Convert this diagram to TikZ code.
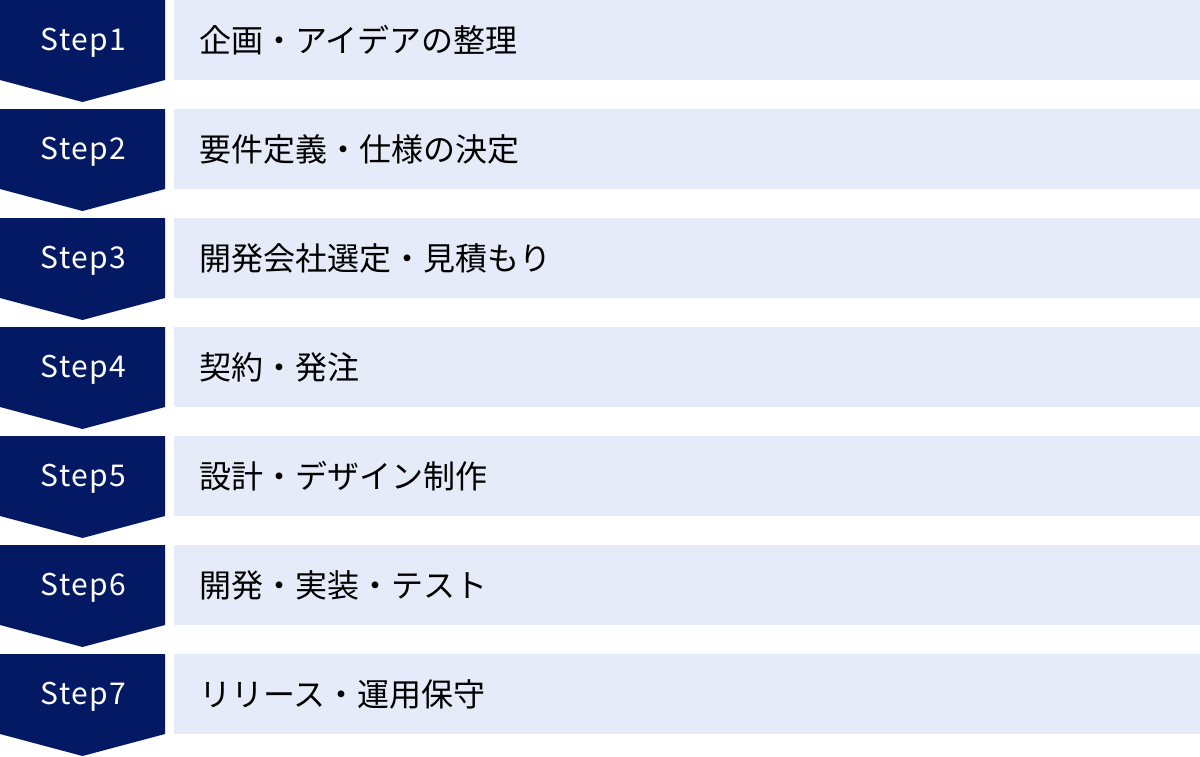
\documentclass[tikz,border=0pt]{standalone}
\usepackage{fontspec}
\setmainfont{Noto Sans CJK JP}
\newfontfamily\stepfont[LetterSpace=5]{Noto Sans CJK JP}
\usetikzlibrary{positioning,calc}

\definecolor{stepnavy}{RGB}{4,25,99}
\definecolor{rowblue}{RGB}{229,235,248}

\begin{document}
\begin{tikzpicture}[x=1pt,y=1pt]
		\tikzset{steplabel/.style={text=white,inner sep=0pt,font=\stepfont\fontsize{30}{36}\selectfont}}
		\tikzset{rowlabel/.style={anchor=west,text=black,inner sep=0pt,font=\fontsize{32}{38}\selectfont}}
		
		\useasboundingbox (0,0) rectangle (1200,-756);
		
		\newcommand\rowPitch{109}
		
		\newcommand\drawStep[3] % {row} {label} {name}
		{
			\coordinate (#3top) at (0,{-\rowPitch*(#1-1)});
			\fill[stepnavy] (#3top) -- ++(165,0) -- ++(0,-80) -- ++(-82.5,-22) -- ++(-82.5,22) -- cycle;
			\fill[rowblue] ($(#3top)+(174,0)$) rectangle ++(1026,-80);
			\node[steplabel] at ($(#3top)+(83.5,-43)$) (#3step) {Step#1};
			\node[rowlabel] at ($(#3top)+(199,-40)$) (#3text) {#2};
		}
		
		\drawStep{1}{企画・アイデアの整理}{plan}
		\drawStep{2}{要件定義・仕様の決定}{spec}
		\drawStep{3}{開発会社選定・見積もり}{vendor}
		\drawStep{4}{契約・発注}{order}
		\drawStep{5}{設計・デザイン制作}{design}
		\drawStep{6}{開発・実装・テスト}{build}
		\drawStep{7}{リリース・運用保守}{release}
		
\end{tikzpicture}
\end{document}
